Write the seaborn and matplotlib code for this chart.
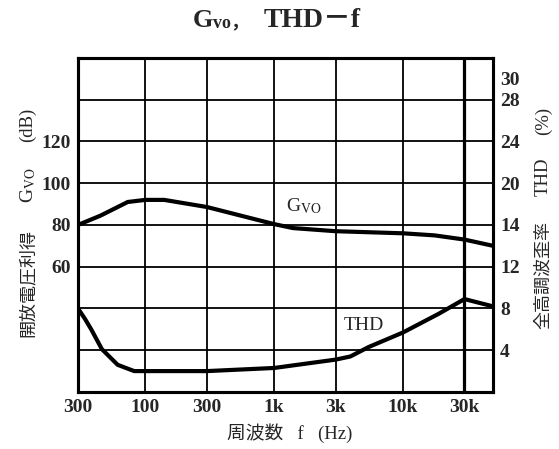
import numpy as np
import pandas as pd
import matplotlib
matplotlib.use("Agg")
import matplotlib.pyplot as plt
import seaborn as sns

# values
gvo_freq = [30, 45, 73, 100, 140, 300, 1000, 1400, 3000, 10000, 17600, 30000, 50000]
gvo_db = [80, 84.5, 91, 92, 92, 88.6, 80.4, 78.5, 77, 76, 75, 73, 70]

thd_freq = [30, 34, 38, 46, 61, 82, 300, 1000, 3000, 3900, 5400, 10000, 19000, 30000, 50000]
thd_pct = [8.0, 7.0, 6.0, 4.1, 2.6, 2.0, 2.0, 2.3, 3.1, 3.4, 4.3, 5.7, 7.5, 8.9, 8.2]

x_ticks = [30, 100, 300, 1000, 3000, 10000, 30000]
x_labels = ["300", "100", "300", "1k", "3k", "10k", "30k"]
left_ticks = [20, 40, 60, 80, 100, 120, 140]
left_labels = ["", "", "60", "80", "100", "120", ""]
right_ticks = [4, 8, 12, 16, 20, 24, 28, 30]
right_labels = ["4", "8", "12", "14", "20", "24", "28", "30"]

gvo = pd.DataFrame({"f": gvo_freq, "G": gvo_db})
thd = pd.DataFrame({"f": thd_freq, "THD": thd_pct})

sns.set_style("white")
fonts = ["Liberation Serif", "Noto Sans CJK JP", "DejaVu Sans"]
plt.rcParams["font.family"] = fonts
plt.rcParams["mathtext.fontset"] = "stix"

fig = plt.figure(figsize=(5.59, 4.49), dpi=100)
ax = fig.add_axes([0.1395, 0.127, 0.7425, 0.744])
ax2 = ax.twinx()

sns.lineplot(data=gvo, x="f", y="G", ax=ax, color="black", linewidth=3.0)
sns.lineplot(data=thd, x="f", y="THD", ax=ax2, color="black", linewidth=3.0)

ax.set_xscale("log")
ax.set_xlim(30, 50000)
ax.set_ylim(0, 160)
ax2.set_ylim(0, 32)

ax.set_xticks(x_ticks)
ax.set_xticklabels(x_labels)
ax.xaxis.set_minor_locator(matplotlib.ticker.NullLocator())
ax.set_yticks(left_ticks)
ax.set_yticklabels(left_labels)
ax2.set_yticks(right_ticks)
ax2.set_yticklabels(right_labels)

ax.grid(True, color="black", linewidth=1.3)
ax.get_xgridlines()[-1].set_linewidth(2.3)  # 30k line is heavier in the print
ax2.grid(False)
ax.tick_params(length=0, labelsize=14, pad=5)
ax2.tick_params(length=0, labelsize=14, pad=5)
for lab in ax.get_xticklabels() + ax.get_yticklabels() + ax2.get_yticklabels():
    lab.set_fontweight("bold")

for a in (ax, ax2):
    for s in a.spines.values():
        s.set_color("black")
        s.set_linewidth(2.2)
ax.set_xlabel("")
ax.set_ylabel("")
ax2.set_ylabel("")

# axis titles, split so the CJK fallback works outside mathtext
fig.text(0.518, 0.035, "周波数   f   (Hz)", fontsize=13.5, ha="center", va="center")

fig.text(0.050, 0.370, "開放電圧利得", fontsize=13, rotation=90, ha="center", va="center")
fig.text(0.050, 0.588, "G$_{\\mathrm{VO}}$", fontsize=14, rotation=90, ha="center", va="center")
fig.text(0.050, 0.722, "(dB)", fontsize=13.5, rotation=90, ha="center", va="center")

fig.text(0.972, 0.388, "全高調波歪率", fontsize=13, rotation=90, ha="center", va="center")
fig.text(0.972, 0.606, "THD", fontsize=13.5, rotation=90, ha="center", va="center")
fig.text(0.972, 0.730, "(%)", fontsize=13.5, rotation=90, ha="center", va="center")

ax.text(1230, 89, "G$_{\\mathrm{VO}}$", fontsize=14, va="center", ha="left")
ax2.text(3440, 6.4, "THD", fontsize=14, va="center", ha="left")

# title in pieces: large G, small "vo"
fig.text(213 / 559, 0.94, "G", fontsize=19, fontweight="bold", ha="right", va="baseline")
fig.text(213 / 559, 0.94, "vo，", fontsize=13, fontweight="bold", ha="left", va="baseline")
fig.text(264 / 559, 0.94, "THD－f", fontsize=20, fontweight="bold", ha="left", va="baseline")

fig.savefig("out.png", dpi=100)
